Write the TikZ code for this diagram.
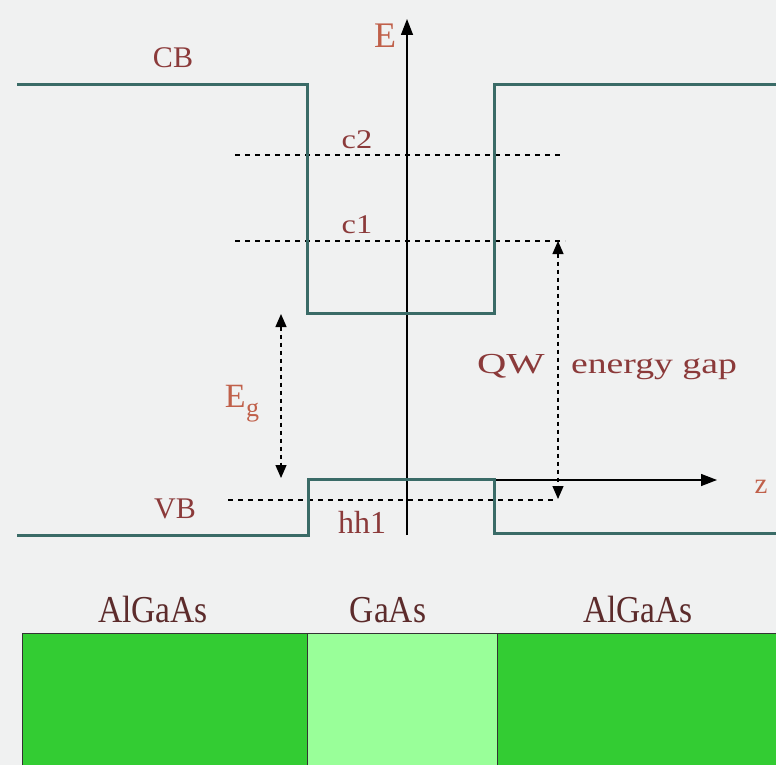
\documentclass[tikz,border=0pt]{standalone}
\usepackage{fontspec}
\usepackage{graphicx}
\setmainfont{Liberation Serif}
\usetikzlibrary{arrows.meta}
\definecolor{bgc}{HTML}{F0F1F1}
\definecolor{band}{HTML}{3A6B67}
\definecolor{lbl}{HTML}{8B3A3A}
\definecolor{axl}{HTML}{C0604A}
\definecolor{matl}{HTML}{5C2B2B}
\definecolor{dgreen}{HTML}{33CC33}
\definecolor{lgreen}{HTML}{99FF99}
\tikzset{
  bandline/.style={draw=band,line width=3pt,line join=miter},
  axisline/.style={draw=black,line width=1.4pt,-{Triangle[length=16pt,width=12pt]}},
  levelline/.style={draw=black,line width=1.4pt,dash pattern=on 5pt off 5pt},
  gaparrow/.style={draw=black,line width=1.3pt,dash pattern=on 4pt off 4pt,
     {Triangle[length=13pt,width=11pt]}-{Triangle[length=13pt,width=11pt]}},
  lab/.style={text=lbl,inner sep=0pt,anchor=base},
  axlab/.style={text=axl,inner sep=0pt,anchor=base},
  matlab/.style={text=matl,inner sep=0pt,anchor=base,font=\fontsize{38}{40}\selectfont},
  layer/.style={draw=black!80,line width=0.9pt},
}
\begin{document}
\begin{tikzpicture}[x=1pt,y=-1pt]
\useasboundingbox (0,0) rectangle (776,765);
\fill[bgc] (0,0) rectangle (776,765);

% layers
\path[layer,fill=dgreen] (22,633) rectangle (307,770);
\path[layer,fill=lgreen] (307,633) rectangle (497,770);
\path[layer,fill=dgreen] (497,633) rectangle (780,770);

% coordinates
\coordinate (Ebot) at (407,535);
\coordinate (Etop) at (407,19);
\coordinate (zl) at (407,480);
\coordinate (zr) at (717,480);
\coordinate (c2l) at (235,155);
\coordinate (c2r) at (564,155);
\coordinate (c1l) at (235,241);
\coordinate (c1r) at (565,241);
\coordinate (hl) at (228,500);
\coordinate (hr) at (556,500);
\coordinate (qt) at (558,241);
\coordinate (qb) at (558,499);
\coordinate (gt) at (281,314);
\coordinate (gb) at (281,478);

% level lines
\draw[levelline] (c2l) -- (c2r);
\draw[levelline] (c1l) -- (c1r);
\draw[levelline] (hl) -- (hr);

% axes
\draw[axisline] (Ebot) -- (Etop);
\draw[axisline] (zl) -- (zr);

% bands
\draw[bandline] (17,85) -- (307,85) -- (307,313) -- (494,313) -- (494,85) -- (780,85);
\draw[bandline] (17,535) -- (308,535) -- (308,479) -- (494,479) -- (494,533) -- (780,533);

% gap arrows
\draw[gaparrow] (qt) -- (qb);
\draw[gaparrow] (gt) -- (gb);

% labels
\node[lab,font=\fontsize{30}{32}\selectfont] (CB) at (173,68) {CB};
\node[lab,font=\fontsize{30}{32}\selectfont] (VB) at (175,518) {VB};
\node[axlab,font=\fontsize{36}{38}\selectfont] (E) at (385,48) {E};
\node[axlab,font=\fontsize{29}{30}\selectfont] (z) at (761,493) {z};
\node[lab,font=\fontsize{27}{29}\selectfont] (c2) at (357,148) {\scalebox{1.2}[1]{c2}};
\node[lab,font=\fontsize{27}{29}\selectfont] (c1) at (357,233) {\scalebox{1.2}[1]{c1}};
\node[lab,font=\fontsize{32}{34}\selectfont] (hh1) at (362,533) {hh1};
\node[axlab,font=\fontsize{34}{36}\selectfont] (Eg) at (242,407) {E\kern0.5pt\raisebox{-0.28em}{\fontsize{26}{28}\selectfont g}};
\node[lab,font=\fontsize{29}{31}\selectfont] (QW) at (511,373) {\scalebox{1.4}[1]{QW}};
\node[lab,font=\fontsize{29}{31}\selectfont] (gap) at (654,373) {\scalebox{1.3}[1]{energy gap}};
\node[matlab] (m1) at (153,622) {\scalebox{0.88}[1]{AlGaAs}};
\node[matlab] (m2) at (388,622) {\scalebox{0.88}[1]{GaAs}};
\node[matlab] (m3) at (638,622) {\scalebox{0.88}[1]{AlGaAs}};
\end{tikzpicture}
\end{document}
